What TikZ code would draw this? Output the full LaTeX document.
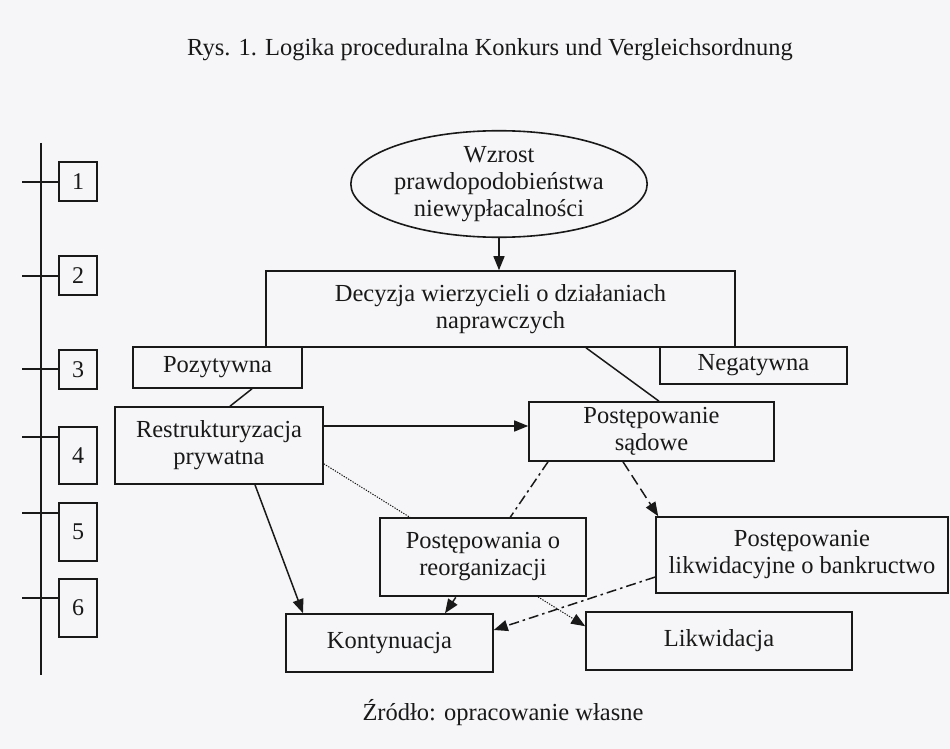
\documentclass[tikz,border=0pt]{standalone}
\usepackage{fontspec}
\setmainfont{Liberation Serif}
\usetikzlibrary{arrows.meta,shapes.geometric,backgrounds}
\definecolor{bg}{RGB}{246,246,248}
\definecolor{ink}{RGB}{25,25,25}
\begin{document}
\begin{tikzpicture}[x=1pt,y=-1pt,
  every node/.style={font=\fontsize{24.5}{27}\selectfont, text=ink},
  box/.style={draw=ink, line width=1.6pt, fill=bg, rectangle, inner sep=0pt, align=center},
  numbox/.style={box, minimum width=38pt, font=\fontsize{24}{27}\selectfont},
  conn/.style={draw=ink, line width=1.5pt},
  arr/.style={conn, -{Triangle[length=14pt,width=11pt]}},
  dotline/.style={line width=1pt, dash pattern=on 1.3pt off 1.3pt},
  dashline/.style={dash pattern=on 11pt off 5pt},
  dashdotline/.style={dash pattern=on 10pt off 4pt on 2.5pt off 4pt},
]
\useasboundingbox (0,0) rectangle (950,749);

% title and source
\node (title) at (490,50) {Rys. 1. Logika proceduralna Konkurs und Vergleichsordnung};
\node (source) at (503,713) {Źródło: opracowanie własne};

% left axis
\coordinate (axtop) at (41,143);
\coordinate (axbot) at (41,675);
\draw[conn] (axtop) -- (axbot);
\node[numbox, minimum height=39pt] (n1) at (78,181.5) {1};
\node[numbox, minimum height=39pt] (n2) at (78,275.5) {2};
\node[numbox, minimum height=39pt] (n3) at (78,369.5) {3};
\node[numbox, minimum height=57pt] (n4) at (78,455.5) {4};
\node[numbox, minimum height=58pt] (n5) at (78,532) {5};
\node[numbox, minimum height=58pt] (n6) at (78,608) {6};
\coordinate (t1) at (22,182);
\coordinate (t2) at (22,276);
\coordinate (t3) at (22,369);
\coordinate (t4) at (22,437);
\coordinate (t5) at (22,513);
\coordinate (t6) at (22,598);
\foreach \i in {1,...,6} {\draw[conn] (t\i) -- (t\i -| n\i.west);}

% main nodes
\node[draw=ink, line width=1.6pt, ellipse, fill=bg, inner sep=0pt, minimum width=210pt, minimum height=82pt, align=center] (ell) at (499,184)
  {Wzrost\\prawdopodobieństwa\\niewypłacalności};
\node[box, minimum width=469pt, minimum height=76pt] (dec) at (500.5,309) {Decyzja wierzycieli o działaniach\\naprawczych};
\node[box, minimum width=169pt, minimum height=41pt] (poz) at (217.5,367.5) {Pozytywna};
\node[box, minimum width=187pt, minimum height=37pt] (neg) at (753.5,365.5) {Negatywna};
\node[box, minimum width=208pt, minimum height=77pt] (res) at (219,445.5) {Restrukturyzacja\\prywatna};
\node[box, minimum width=245pt, minimum height=59pt] (sad) at (651.5,431.5) {Postępowanie\\sądowe};
\node[box, minimum width=206pt, minimum height=78pt] (reo) at (483,557) {Postępowania o\\reorganizacji};
\node[box, minimum width=292pt, minimum height=76pt] (ban) at (802,555) {Postępowanie\\likwidacyjne o bankructwo};
\node[box, minimum width=207pt, minimum height=58pt] (kon) at (389.5,643) {Kontynuacja};
\node[box, minimum width=266pt, minimum height=58pt] (lik) at (719,641) {Likwidacja};

% connectors
\draw[arr] (ell.south) -- (ell.south |- dec.north);
\draw[conn] ([xshift=34.5pt]poz.south) -- ([xshift=11pt]res.north);
\draw[conn] ([xshift=85.5pt]dec.south) -- ([xshift=7.5pt]sad.north);
\coordinate (rr) at ([yshift=19.5pt]res.east);
\draw[arr] (rr) -- (rr -| sad.west);
\draw[arr] ([xshift=36pt]res.south) -- ([xshift=-86.5pt]kon.north);
\draw[arr, dashline] ([xshift=-28.5pt]sad.south) -- ([xshift=3pt]ban.north west);
\draw[arr, dashdotline] ([yshift=-22pt]ban.west) -- ([yshift=13pt]kon.east);

\begin{pgfonlayer}{background}
  \fill[bg] (0,0) rectangle (950,749);
  \draw[arr, dotline] ([yshift=21pt]res.south east) -- ([yshift=-15pt]lik.north west);
  \draw[arr, dashdotline] ([xshift=-103.5pt]sad.south) -- ([xshift=55.5pt]kon.north);
\end{pgfonlayer}
\end{tikzpicture}
\end{document}
